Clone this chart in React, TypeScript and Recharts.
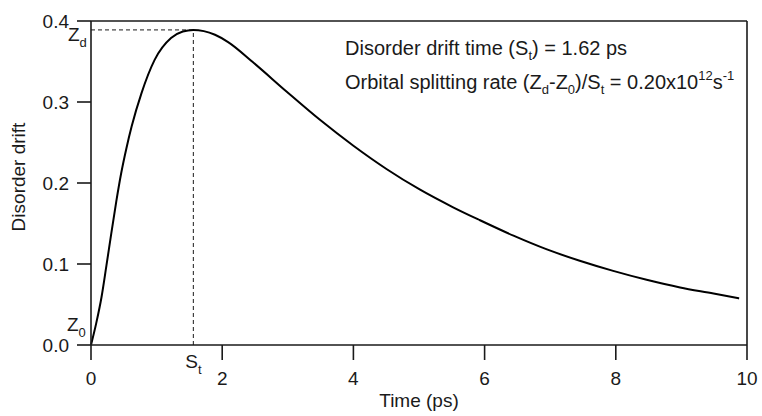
import React from "react";
import { LineChart, Line, XAxis, YAxis, ReferenceLine, ReferenceDot } from "recharts";

// values
const timePs = [
  0, 0.08, 0.16, 0.235, 0.31, 0.385, 0.46, 0.54, 0.62, 0.77, 0.97, 1.22, 1.4, 1.56, 1.72, 1.89,
  2.09, 2.47, 2.98, 3.49, 4.0, 4.51, 5.01, 5.52, 5.93, 6.44, 6.95, 7.45, 7.96, 8.47, 8.98, 9.49,
  9.88,
];
const drift = [
  0, 0.027, 0.059, 0.098, 0.138, 0.177, 0.212, 0.243, 0.27, 0.311, 0.352, 0.379, 0.387, 0.389,
  0.3875, 0.383, 0.374, 0.349, 0.313, 0.278, 0.246, 0.217, 0.192, 0.17, 0.154, 0.135, 0.118,
  0.104, 0.0915, 0.0805, 0.071, 0.0635, 0.0575,
];
const xTicks = [0, 2, 4, 6, 8, 10];
const yTicks = [0, 0.1, 0.2, 0.3, 0.4];
const peakTime = 1.56;
const peakDrift = 0.389;

const data = timePs.map((t, i) => ({ t, d: drift[i] }));

const FONT = "'Liberation Sans', Arial, Helvetica, sans-serif";
const INK = "#1a1a1a";

function YTitle({ viewBox }: any) {
  const cx = viewBox.x + 18;
  const cy = viewBox.y + viewBox.height / 2 - 6;
  return (
    <text
      x={cx}
      y={cy}
      transform={`rotate(-90 ${cx} ${cy})`}
      textAnchor="middle"
      dominantBaseline="central"
      fontFamily={FONT}
      fontSize={19}
      fill={INK}
    >
      Disorder drift
    </text>
  );
}

function XTitle({ viewBox }: any) {
  return (
    <text
      x={viewBox.x + viewBox.width / 2}
      y={viewBox.y + 62}
      textAnchor="middle"
      fontFamily={FONT}
      fontSize={19}
      fill={INK}
    >
      Time (ps)
    </text>
  );
}

function Annotation({ viewBox }: any) {
  const x = viewBox.x + 254;
  const y = viewBox.y + 34;
  return (
    <text fontFamily={FONT} fontSize={20} fill={INK}>
      <tspan x={x} y={y}>
        Disorder drift time (S
        <tspan dy={5} fontSize={13}>t</tspan>
        <tspan dy={-5}>) = 1.62 ps</tspan>
      </tspan>
      <tspan x={x} y={y + 34}>
        Orbital splitting rate (Z
        <tspan dy={5} fontSize={13}>d</tspan>
        <tspan dy={-5}>-Z</tspan>
        <tspan dy={5} fontSize={13}>0</tspan>
        <tspan dy={-5}>)/S</tspan>
        <tspan dy={5} fontSize={13}>t</tspan>
        <tspan dy={-5}> = 0.20x10</tspan>
        <tspan dy={-9} fontSize={13}>12</tspan>
        <tspan dy={9}>s</tspan>
        <tspan dy={-9} fontSize={13}>-1</tspan>
      </tspan>
    </text>
  );
}

function SubLabel({ viewBox, main, sub, dx, dy }: any) {
  return (
    <text
      x={viewBox.x + dx}
      y={viewBox.y + dy}
      fontFamily={FONT}
      fontSize={19}
      fill={INK}
    >
      {main}
      <tspan dy={6} fontSize={13}>{sub}</tspan>
    </text>
  );
}

export default function App() {
  return (
    <div style={{ position: "absolute", left: 0, top: 0, background: "#fff" }}>
      <LineChart
        width={762}
        height={416}
        data={data}
        margin={{ top: 21, right: 15, bottom: 0, left: 0 }}
      >
        <XAxis
          dataKey="t"
          type="number"
          domain={[0, 10]}
          ticks={xTicks}
          height={71}
          tickSize={15}
          tickMargin={12}
          stroke={INK}
          strokeWidth={1.6}
          tick={{ fill: INK, fontSize: 19, fontFamily: FONT }}
          label={<XTitle />}
        />
        <YAxis
          type="number"
          domain={[0, 0.4]}
          ticks={yTicks}
          width={91}
          tickSize={14}
          tickMargin={8}
          stroke={INK}
          strokeWidth={1.6}
          tickFormatter={(v: number) => v.toFixed(1)}
          tick={{ fill: INK, fontSize: 19, fontFamily: FONT }}
          label={<YTitle />}
        />
        <ReferenceLine y={0.4} stroke={INK} strokeWidth={1.6} label={<Annotation />} />
        <ReferenceLine x={10} stroke={INK} strokeWidth={1.6} />
        <ReferenceLine
          segment={[
            { x: 0, y: peakDrift },
            { x: peakTime, y: peakDrift },
          ]}
          stroke={INK}
          strokeWidth={1}
          strokeDasharray="4 3"
        />
        <ReferenceLine
          segment={[
            { x: peakTime, y: 0 },
            { x: peakTime, y: peakDrift },
          ]}
          stroke={INK}
          strokeWidth={1}
          strokeDasharray="4 3"
        />
        <ReferenceDot
          x={0}
          y={peakDrift}
          r={0}
          fill="none"
          stroke="none"
          label={<SubLabel main="Z" sub="d" dx={-23} dy={11} />}
        />
        <ReferenceDot
          x={0}
          y={0}
          r={0}
          fill="none"
          stroke="none"
          label={<SubLabel main="Z" sub="0" dx={-24} dy={-14} />}
        />
        <ReferenceDot
          x={peakTime}
          y={0}
          r={0}
          fill="none"
          stroke="none"
          label={<SubLabel main="S" sub="t" dx={-8} dy={23} />}
        />
        <Line
          type="monotone"
          dataKey="d"
          stroke="#000"
          strokeWidth={2}
          dot={false}
          isAnimationActive={false}
        />
      </LineChart>
    </div>
  );
}
